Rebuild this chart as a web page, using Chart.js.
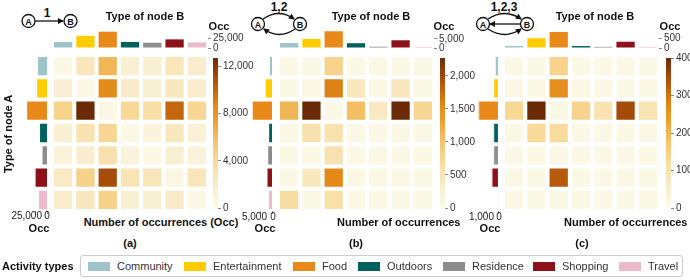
<!DOCTYPE html>
<html>
<head>
<meta charset="utf-8">
<script src="https://cdn.jsdelivr.net/npm/chart.js@4.4.1/dist/chart.umd.min.js"></script>
<style>
  body { margin: 0; background: #fff; font-family: "Liberation Sans", Arial, sans-serif; }
  #fig { position: relative; width: 690px; height: 280px; overflow: hidden; }
  #fig canvas { position: absolute; }
  .txt { position: absolute; white-space: nowrap; color: #222; font-size: 10px; line-height: 12px; }
  .b { font-weight: bold; font-size: 11px; color: #111; }
  #legend { position: absolute; left: 80px; top: 255px; width: 603px; height: 22px; border: 1px solid #ccc; border-radius: 3px; box-sizing: border-box; }
  .sw { position: absolute; top: 262px; width: 22px; height: 9px; }
  svg { position: absolute; left: 0; top: 0; }
</style>
</head>
<body>
<div id="fig">
  <svg width="690" height="50" viewBox="0 0 690 50">
    <defs>
      <marker id="ah" markerWidth="6" markerHeight="6" refX="5" refY="3" orient="auto" markerUnits="userSpaceOnUse">
        <path d="M0,0 L6,3 L0,6 z" fill="#111"/>
      </marker>
    </defs>
    <g stroke="#111" stroke-width="1.3" fill="none" font-family="Liberation Sans, Arial" font-size="9" font-weight="bold">
      <circle cx="28.5" cy="21" r="6.5"/><circle cx="70.5" cy="21" r="6.5"/>
      <line x1="35" y1="21" x2="63" y2="21" marker-end="url(#ah)"/>
      <circle cx="258" cy="24" r="6.5"/><circle cx="300" cy="24" r="6.5"/>
      <path d="M263,19 Q279,8 294,19" marker-end="url(#ah)"/>
      <path d="M295,29 Q279,40 264,29" marker-end="url(#ah)"/>
      <circle cx="483" cy="24" r="6.5"/><circle cx="527" cy="24" r="6.5"/>
      <path d="M488,19 Q505,8 521,19" marker-end="url(#ah)"/>
      <line x1="520" y1="24" x2="490" y2="24" marker-end="url(#ah)"/>
      <path d="M488,29 Q505,40 521,29" marker-end="url(#ah)"/>
    </g>
    <g fill="#111" font-family="Liberation Sans, Arial" font-size="9" font-weight="bold" text-anchor="middle">
      <text x="28.5" y="24.5">A</text><text x="70.5" y="24.5">B</text>
      <text x="258" y="27.5">A</text><text x="300" y="27.5">B</text>
      <text x="483" y="27.5">A</text><text x="527" y="27.5">B</text>
    </g>
    <g fill="#111" font-family="Liberation Sans, Arial" font-size="12" font-weight="bold" text-anchor="middle">
      <text x="47" y="17">1</text>
      <text x="279" y="11">1,2</text>
      <text x="504" y="11">1,2,3</text>
    </g>
  </svg>
  <div id="legend"></div>
</div>
<script>
// activity types (rows = node A, columns = node B)
const nodeTypes = ['Community', 'Entertainment', 'Food', 'Outdoors', 'Residence', 'Shopping', 'Travel'];
const typeColors = ['#9dc3cb', '#ffcc00', '#e8891a', '#00605b', '#8c8c8c', '#8c1119', '#ecbacb'];

// (a) one step A -> B
const heatA = [
  [300, 2600, 6300, 1500, 1500, 2600, 1800],
  [1500, 300, 8500, 2000, 1500, 2500, 1800],
  [4500, 12700, 300, 4100, 3500, 10000, 4200],
  [1500, 3000, 4200, 300, 800, 2500, 1200],
  [1000, 1800, 3200, 900, 300, 1500, 1000],
  [2200, 4600, 11000, 2800, 2600, 400, 2600],
  [1800, 2500, 4600, 1500, 1500, 2000, 300]
];
const topA = [16000, 32500, 43500, 16000, 14000, 23000, 15000];
const leftA = [19000, 21000, 41000, 15000, 10000, 24000, 17000];
const scaleMaxA = 12700;
const cbarTicksA = [0, 4000, 8000, 12000];
const topTicksA = [0, 25000];
const leftTicksA = [0, 25000];

// (b) A -> B -> A
const heatB = [
  [40, 60, 800, 50, 50, 50, 50],
  [40, 50, 1600, 450, 50, 450, 50],
  [1130, 2270, 40, 1050, 400, 2270, 750],
  [40, 570, 560, 40, 40, 40, 40],
  [40, 40, 550, 40, 40, 40, 40],
  [40, 450, 1550, 40, 40, 40, 40],
  [650, 40, 600, 40, 40, 40, 40]
];
const topB = [2700, 4900, 9100, 2600, 700, 4200, 600];
const leftB = [1100, 2800, 8300, 1400, 1800, 2100, 1500];
const scaleMaxB = 2270;
const cbarTicksB = [0, 500, 1000, 1500, 2000];
const topTicksB = [0, 5000];
const leftTicksB = [0, 5000];

// (c) A -> B -> A -> B
const heatC = [
  [8, 8, 140, 8, 8, 8, 8],
  [8, 8, 260, 8, 8, 8, 8],
  [130, 400, 8, 140, 95, 350, 90],
  [8, 125, 120, 8, 8, 8, 8],
  [8, 8, 10, 8, 8, 8, 8],
  [8, 8, 330, 8, 8, 8, 8],
  [8, 8, 8, 8, 8, 8, 8]
];
const topC = [100, 500, 820, 100, 60, 320, 60];
const leftC = [220, 360, 1600, 360, 360, 500, 20];
const scaleMaxC = 400;
const cbarTicksC = [0, 100, 200, 300, 400];
const topTicksC = [0, 500];
const leftTicksC = [0, 1000];

// colour scale (cream -> orange -> brown)
const cmap = [
  [0.00, [251, 250, 234]],
  [0.15, [249, 236, 203]],
  [0.30, [248, 220, 158]],
  [0.45, [244, 194, 106]],
  [0.60, [236, 154, 42]],
  [0.68, [227, 138, 23]],
  [0.80, [192, 98, 12]],
  [0.90, [154, 67, 9]],
  [1.00, [107, 42, 6]]
];

function colorAt(t) {
  t = Math.max(0, Math.min(1, t));
  for (let i = 1; i < cmap.length; i++) {
    if (t <= cmap[i][0]) {
      const [t0, c0] = cmap[i - 1];
      const [t1, c1] = cmap[i];
      const f = (t - t0) / (t1 - t0);
      const c = c0.map((v, k) => Math.round(v + (c1[k] - v) * f));
      return 'rgb(' + c.join(',') + ')';
    }
  }
  return 'rgb(107,42,6)';
}

const fig = document.getElementById('fig');
const fmt = v => v.toLocaleString('en-US');
const base = {
  responsive: false,
  animation: false,
  events: [],
  plugins: { legend: { display: false }, tooltip: { enabled: false } }
};

function addCanvas(x, y, w, h) {
  const c = document.createElement('canvas');
  c.width = w; c.height = h;
  c.style.left = x + 'px'; c.style.top = y + 'px';
  c.style.width = w + 'px'; c.style.height = h + 'px';
  fig.appendChild(c);
  return c;
}

function addText(x, y, text, cls, anchor) {
  const d = document.createElement('div');
  d.className = 'txt ' + (cls || '');
  d.textContent = text;
  d.style.left = x + 'px';
  d.style.top = y + 'px';
  let tx = '0';
  if (anchor === 'center') tx = '-50%';
  if (anchor === 'right') tx = '-100%';
  d.style.transform = 'translate(' + tx + ',-50%)';
  fig.appendChild(d);
  return d;
}

const setTicks = list => scale => { scale.ticks = list.map(v => ({ value: v })); };
const tickGrid = { display: true, drawOnChartArea: false, tickLength: 3, color: '#888' };

// heatmap: stacked unit bars, one dataset per row of node A
function heatChart(x, values, vmax) {
  const datasets = values.map(row => ({
    data: row.map(() => 1),
    backgroundColor: row.map(v => colorAt(v / vmax)),
    borderColor: '#ffffff',
    borderWidth: 2,
    borderSkipped: false,
    inflateAmount: 0,
    barPercentage: 1,
    categoryPercentage: 1
  })).reverse();
  new Chart(addCanvas(x, 55, 156, 156), {
    type: 'bar',
    data: { labels: nodeTypes, datasets: datasets },
    options: Object.assign({}, base, {
      layout: { padding: 0 },
      scales: {
        x: { display: false, stacked: true },
        y: { display: false, stacked: true, min: 0, max: 7 }
      }
    })
  });
}

// marginal bars on top (node B)
function topChart(x, values, vmax, ticks) {
  new Chart(addCanvas(x, 22, 156 + 42, 34), {
    type: 'bar',
    data: { labels: nodeTypes, datasets: [{ data: values, backgroundColor: typeColors, barPercentage: 0.82, categoryPercentage: 1, inflateAmount: 0 }] },
    options: Object.assign({}, base, {
      layout: { padding: { top: 6, bottom: 6, left: 0, right: 0 } },
      scales: {
        x: { display: false },
        y: {
          position: 'right', min: 0, max: vmax,
          afterBuildTicks: setTicks(ticks),
          afterFit: s => { s.width = 42; },
          border: { display: false },
          grid: tickGrid,
          ticks: { font: { size: 10, family: 'Liberation Sans' }, color: '#333', padding: 2, callback: fmt }
        }
      }
    })
  });
}

// marginal bars on the left (node A), growing to the left
function leftChart(x0, x1, values, vmax, ticks) {
  new Chart(addCanvas(x0 - 10, 55, x1 - x0 + 12.5, 161), {
    type: 'bar',
    data: { labels: nodeTypes, datasets: [{ data: values, backgroundColor: typeColors, barPercentage: 0.82, categoryPercentage: 1, inflateAmount: 0 }] },
    options: Object.assign({}, base, {
      indexAxis: 'y',
      layout: { padding: { left: 10, right: 2.5, top: 0, bottom: 0 } },
      scales: {
        y: { display: false },
        x: {
          reverse: true, min: 0, max: vmax,
          afterBuildTicks: setTicks(ticks),
          afterFit: s => { s.height = 5; },
          border: { display: false },
          grid: tickGrid,
          ticks: { display: false }
        }
      }
    })
  });
}

// colour bar
function colorbar(x, vmax, ticks) {
  new Chart(addCanvas(x, 50, 5 + 42, 166), {
    type: 'bar',
    data: {
      labels: ['Occ'],
      datasets: [{
        data: [vmax],
        barPercentage: 1, categoryPercentage: 1, inflateAmount: 0,
        backgroundColor: c => {
          const area = c.chart.chartArea;
          if (!area) return null;
          const g = c.chart.ctx.createLinearGradient(0, area.bottom, 0, area.top);
          cmap.forEach(([t, col]) => g.addColorStop(t, 'rgb(' + col.join(',') + ')'));
          return g;
        }
      }]
    },
    options: Object.assign({}, base, {
      layout: { padding: { top: 7, bottom: 7, left: 0, right: 0 } },
      scales: {
        x: { display: false },
        y: {
          position: 'right', min: 0, max: vmax,
          afterBuildTicks: setTicks(ticks),
          afterFit: s => { s.width = 42; },
          border: { display: false },
          grid: tickGrid,
          ticks: { font: { size: 10, family: 'Liberation Sans' }, color: '#333', padding: 2, callback: fmt }
        }
      }
    })
  });
}

// panel (a)
heatChart(52, heatA, scaleMaxA);
topChart(52, topA, 48000, topTicksA);
leftChart(22, 47.5, leftA, 51400, leftTicksA);
colorbar(213, scaleMaxA, cbarTicksA);

// panel (b)
heatChart(278, heatB, scaleMaxB);
topChart(278, topB, 9800, topTicksB);
leftChart(250, 272.7, leftB, 9460, leftTicksB);
colorbar(440, scaleMaxB, cbarTicksB);

// panel (c)
heatChart(503, heatC, scaleMaxC);
topChart(503, topC, 920, topTicksC);
leftChart(476, 498.3, leftC, 1813, leftTicksC);
colorbar(666, scaleMaxC, cbarTicksC);

// titles and labels
addText(145, 16, 'Type of node B', 'b', 'center');
addText(371, 16, 'Type of node B', 'b', 'center');
addText(595, 16, 'Type of node B', 'b', 'center');
addText(219, 26, 'Occ', 'b', 'center');
addText(444, 26, 'Occ', 'b', 'center');
addText(670, 26, 'Occ', 'b', 'center');
addText(161, 222, 'Number of occurrences (Occ)', 'b', 'center');
addText(337, 222, 'Number of occurrences', 'b');
addText(564, 222, 'Number of occurrences', 'b');
addText(130, 243, '(a)', 'b', 'center');
addText(356, 243, '(b)', 'b', 'center');
addText(582, 243, '(c)', 'b', 'center');
const yl = addText(8, 134, 'Type of node A', 'b', 'center');
yl.style.transform = 'translate(-50%,-50%) rotate(-90deg)';

// left axis tick labels and titles
addText(42, 216, fmt(leftTicksA[1]), '', 'right');
addText(47, 216, '0', '', 'center');
addText(39, 228, 'Occ', 'b', 'center');
addText(267, 217, fmt(leftTicksB[1]), '', 'right');
addText(273, 217, '0', '', 'center');
addText(265, 228, 'Occ', 'b', 'center');
addText(494, 217, fmt(leftTicksC[1]), '', 'right');
addText(499, 217, '0', '', 'center');
addText(490, 228, 'Occ', 'b', 'center');

// legend
addText(2, 266, 'Activity types', 'b');
const swatchX = [88, 184, 293, 358, 443, 533, 619];
nodeTypes.forEach((name, i) => {
  const s = document.createElement('div');
  s.className = 'sw';
  s.style.left = swatchX[i] + 'px';
  s.style.background = typeColors[i];
  fig.appendChild(s);
  const t = addText(swatchX[i] + 29, 266, name);
  t.style.fontSize = '11px';
  t.style.color = '#333';
});
</script>
</body>
</html>
